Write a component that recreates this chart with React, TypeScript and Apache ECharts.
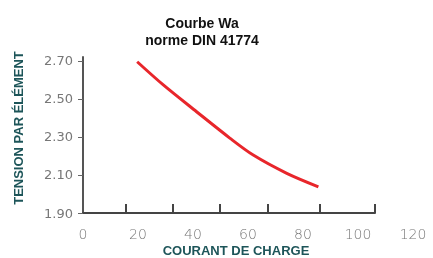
import React, { useEffect, useRef } from "react";
import * as echarts from "echarts";

const courant = [19.7, 29.2, 41.3, 53.5, 61.9, 74.1, 85.6];
const tension = [2.696, 2.574, 2.433, 2.293, 2.205, 2.109, 2.038];
const xLabels = [0, 20, 40, 60, 80, 100, 120];
const xTicks = [15.6, 32.7, 49.8, 67.3, 86.2, 106.2];
const yLabels = [1.9, 2.1, 2.3, 2.5, 2.7];

export default function App() {
  const ref = useRef<HTMLDivElement>(null);
  useEffect(() => {
    const chart = echarts.init(ref.current!, null, { renderer: "svg" });
    const data = courant.map((c, i) => [c, tension[i]]);
    chart.setOption({
      animation: false,
      grid: [
        { left: 83, right: 20, top: 57, bottom: 45 },
        { left: 83, width: 292, top: 57, bottom: 45 },
      ],
      xAxis: [
        {
          type: "value",
          gridIndex: 0,
          min: 0,
          max: 120,
          axisLine: { show: false },
          axisTick: { show: false },
          splitLine: { show: false },
          axisLabel: {
            customValues: xLabels,
            color: "#777",
            fontSize: 14,
            fontFamily: "DejaVu Sans",
            fontWeight: 200,
            margin: 14,
          },
        },
        {
          type: "value",
          gridIndex: 1,
          min: 0,
          max: 106.2,
          splitLine: { show: false },
          axisLabel: { show: false },
          axisLine: { lineStyle: { color: "#444", width: 2 } },
          axisTick: {
            customValues: xTicks,
            inside: true,
            length: 9,
            lineStyle: { color: "#444", width: 2 },
          },
        },
      ],
      yAxis: [
        {
          type: "value",
          gridIndex: 0,
          min: 1.9,
          max: 2.721,
          splitLine: { show: false },
          axisLine: { show: true, lineStyle: { color: "#555", width: 2 } },
          axisTick: {
            show: true,
            customValues: yLabels,
            length: 5,
            lineStyle: { color: "#666", width: 1 },
          },
          axisLabel: {
            customValues: yLabels,
            formatter: (v: number) => v.toFixed(2),
            color: "#777",
            fontSize: 13,
            fontFamily: "DejaVu Sans",
            margin: 10,
          },
        },
        {
          type: "value",
          gridIndex: 1,
          min: 0,
          max: 1,
          show: false,
        },
      ],
      series: [
        {
          type: "line",
          xAxisIndex: 0,
          yAxisIndex: 0,
          data,
          smooth: 0.3,
          symbol: "none",
          lineStyle: { color: "#e8262b", width: 3 },
        },
      ],
      graphic: [
        {
          type: "text",
          x: 202,
          y: 14,
          style: {
            text: "Courbe Wa\nnorme DIN 41774",
            textAlign: "center",
            font: "bold 14px 'Liberation Sans'",
            lineHeight: 17,
            fill: "#111",
          },
        },
        {
          type: "text",
          x: 236,
          y: 244,
          style: {
            text: "COURANT DE CHARGE",
            textAlign: "center",
            font: "bold 13px 'Liberation Sans'",
            fill: "#1d5559",
          },
        },
        {
          type: "text",
          x: 18,
          y: 128,
          rotation: Math.PI / 2,
          style: {
            text: "TENSION PAR ÉLÉMENT",
            textAlign: "center",
            textVerticalAlign: "middle",
            font: "bold 13px 'Liberation Sans'",
            fill: "#1d5559",
          },
        },
      ],
    });
    return () => chart.dispose();
  }, []);
  return (
    <div
      ref={ref}
      style={{ position: "fixed", left: 0, top: 0, width: 433, height: 258 }}
    />
  );
}
